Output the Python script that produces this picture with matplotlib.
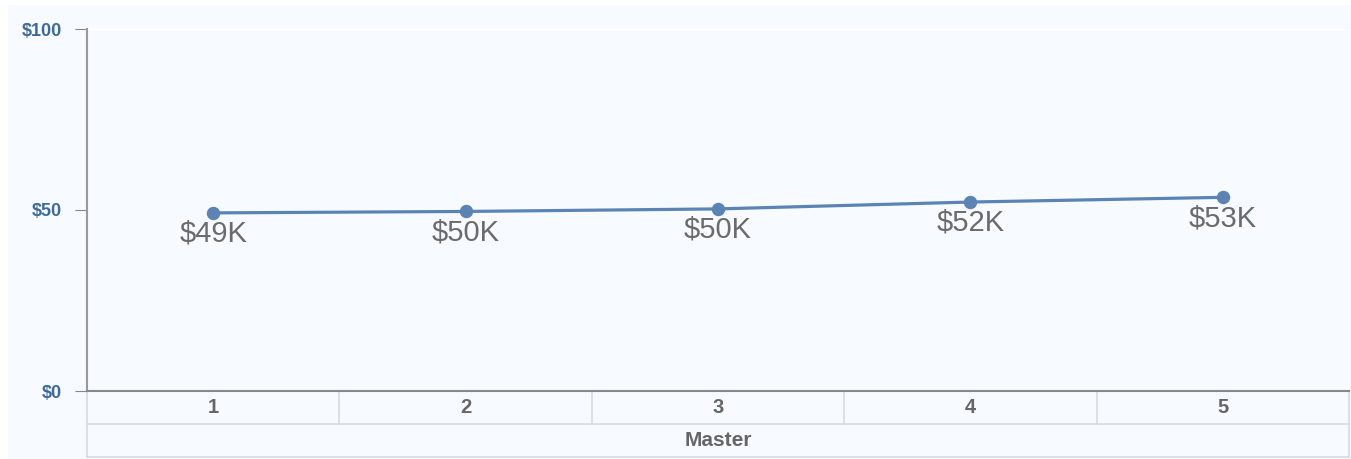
import matplotlib.pyplot as plt
from matplotlib.patches import Rectangle
import matplotlib.transforms as mtransforms

plt.rcParams['font.family'] = ['Liberation Sans', 'DejaVu Sans']

# Datos del gráfico
categorias = ['1', '2', '3', '4', '5']
valores = [49.2, 49.6, 50.3, 52.2, 53.5]
etiquetas = ['$49K', '$50K', '$50K', '$52K', '$53K']
y_ticks = [0, 50, 100]
y_tick_labels = ['$0', '$50', '$100']
grupo = 'Master'

W, H = 1351, 459
fondo = '#f7fbff'
fig = plt.figure(figsize=(W / 100, H / 100), dpi=100)
fig.patch.set_facecolor('white')
fig.add_artist(Rectangle((8 / W, 0), 1 - 8 / W, 1 - 5 / H, transform=fig.transFigure,
                         facecolor=fondo, edgecolor='none', zorder=0))

x0, x1 = 87, 1349
y_top, y_bot = 29, 391
ax = fig.add_axes([x0 / W, 1 - y_bot / H, (x1 - x0) / W, (y_bot - y_top) / H])
ax.set_facecolor(fondo)

xs = list(range(len(categorias)))
ax.plot(xs, valores, color='#5b84b4', lw=2.3, zorder=3, solid_capstyle='round')
ax.scatter(xs, valores, s=75, color='#5b84b4', zorder=4)
for x, v, t in zip(xs, valores, etiquetas):
    ax.annotate(t, (x, v), xytext=(0, -5), textcoords='offset points',
                ha='center', va='top', fontsize=21, color='#6b6b6b')

ax.set_xlim(-0.5, len(categorias) - 0.5)
ax.set_ylim(0, 100)
ax.set_yticks(y_ticks)
ax.set_yticklabels(y_tick_labels, fontsize=13, fontweight='bold', color='#3d6a99')
ax.tick_params(axis='y', length=9, color='#888888', pad=9)
ax.set_xticks([])
ax.axhline(100, color='white', lw=1.5, zorder=1)

for s in ['top', 'right']:
    ax.spines[s].set_visible(False)
ax.spines['left'].set_color('#999999')
ax.spines['left'].set_linewidth(1.5)
ax.spines['bottom'].set_color('#888888')
ax.spines['bottom'].set_linewidth(1.5)

# Tabla de categorías debajo del eje
ph = y_bot - y_top
r1 = -33 / ph
r2 = -66 / ph
grid_c = '#d6dbe0'
trans = mtransforms.blended_transform_factory(ax.transData, ax.transAxes)
for yy in [r1, r2]:
    ax.plot([0, 1], [yy, yy], transform=ax.transAxes, color=grid_c, lw=1.2, clip_on=False)
for xx in [0, 1]:
    ax.plot([xx, xx], [0, r2], transform=ax.transAxes, color=grid_c, lw=1.2, clip_on=False)
for i in range(1, len(categorias)):
    ax.plot([i - 0.5, i - 0.5], [0, r1], transform=trans, color=grid_c, lw=1.2, clip_on=False)
for x, c in zip(xs, categorias):
    ax.text(x, r1 / 2, c, transform=trans, ha='center', va='center',
            fontsize=14.5, fontweight='bold', color='#666666')
ax.text(0.5, (r1 + r2) / 2, grupo, transform=ax.transAxes, ha='center', va='center',
        fontsize=15, fontweight='bold', color='#666666')

fig.savefig('out.png', dpi=100)
